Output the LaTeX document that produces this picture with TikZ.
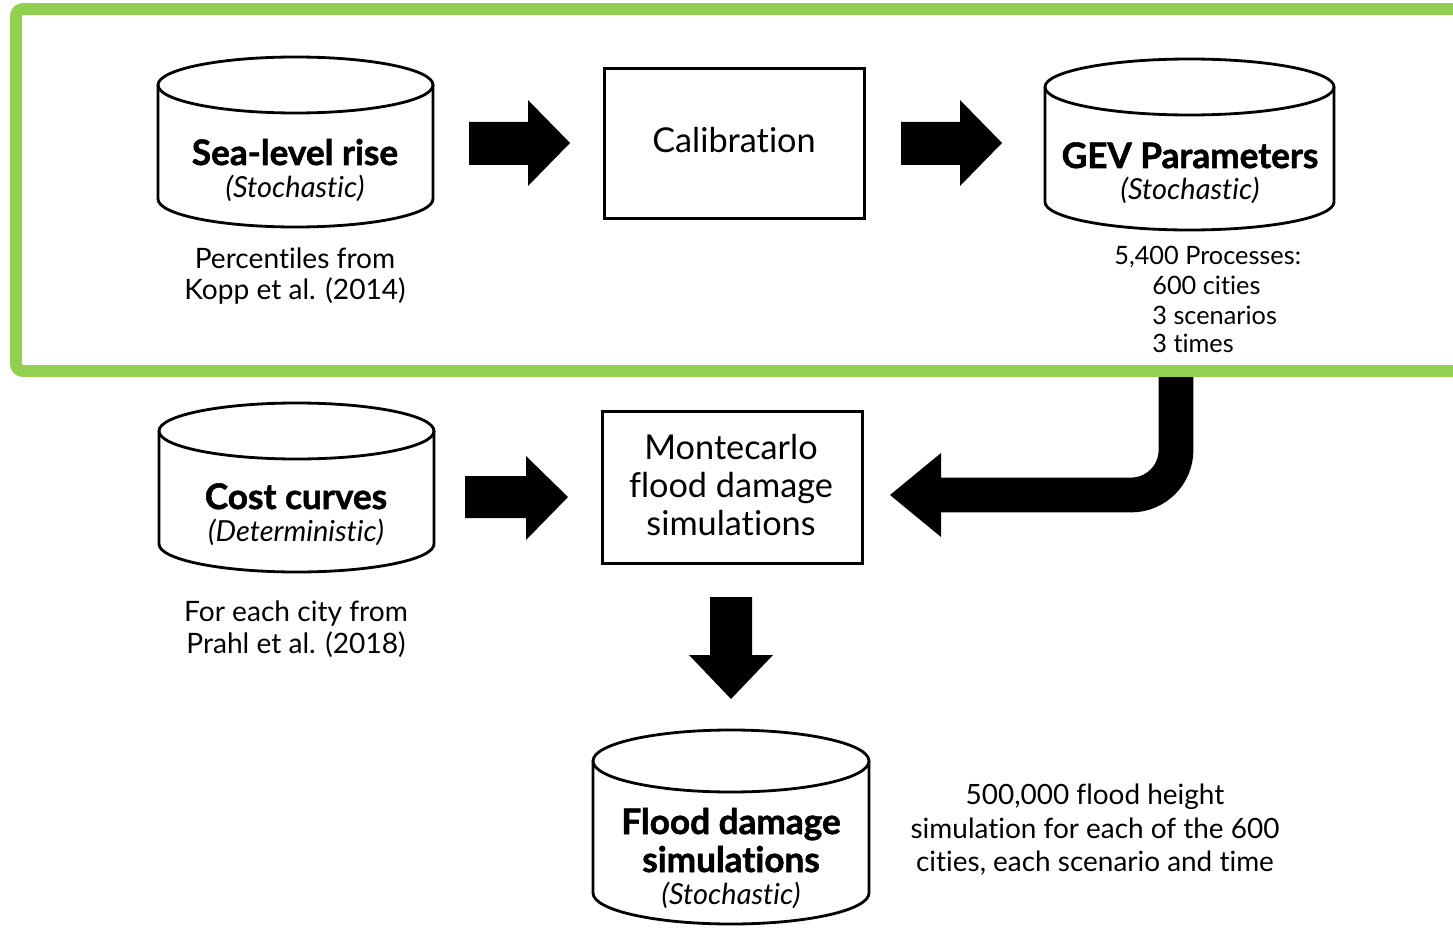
\documentclass[tikz,border=0pt]{standalone}
\usepackage{fontspec}
\setmainfont{Lato}[Ligatures=NoCommon, BoldFeatures={FakeBold=1.6}]
\definecolor{framegreen}{RGB}{146,208,80}
\tikzset{
  box/.style={draw, line width=1.7pt, inner sep=0pt},
  cylline/.style={draw, line width=1.6pt},
  blockarrow/.style={fill=black},
  ln/.style={anchor=base, inner sep=0pt},
  hd/.style={ln, font=\fontsize{20}{24}\selectfont\bfseries},
  sub/.style={ln, font=\fontsize{16.5}{20}\selectfont\itshape},
  boxtxt/.style={ln, font=\fontsize{19.5}{23}\selectfont},
  lbl/.style={ln, font=\fontsize{16}{19}\selectfont},
  gevlbl/.style={anchor=base west, inner sep=0pt, font=\fontsize{14.4}{17}\selectfont},
  fdl/.style={ln, font=\fontsize{15.9}{19}\selectfont},
}
\newcommand\drawcyl[5]{%
  \draw[cylline] ({(#1+#2)/2},{#3+#5}) ellipse [x radius={(#2-#1)/2}, y radius=#5];
  \draw[cylline] (#1,{#3+#5}) -- (#1,{#4-#5}) arc[start angle=180,end angle=0,x radius={(#2-#1)/2},y radius=#5] -- (#2,{#3+#5});
}
\begin{document}
\begin{tikzpicture}[x=0.02cm, y=-0.02cm]
\useasboundingbox (0,0) rectangle (1453,929);
\clip (0,0) rectangle (1453,929);
% green frame
\draw[framegreen, line width=6.8pt, rounded corners=4pt] (16,9) rectangle (1490,371);

% Sea-level rise cylinder
\drawcyl{158}{433}{57}{227}{28}
\node[hd] (slr) at (295,165) {Sea-level rise};
\node[sub] (slrsub) at (295,198) {(Stochastic)};
\node[lbl] (slrl1) at (295,268) {Percentiles from};
\node[lbl] (slrl2) at (295,299) {Kopp et al. (2014)};

% Calibration
\node[box, minimum width=5.22cm, minimum height=3.02cm] (cal) at (734.5,143.5) {};
\node[boxtxt] (caltxt) at (734,153) {Calibration};

% GEV cylinder
\drawcyl{1045}{1334}{59}{230}{28}
\node[hd] (gev) at (1190,168) {GEV Parameters};
\node[sub] (gevsub) at (1190,200) {(Stochastic)};
\node[gevlbl] (gevl1) at (1114,264) {5,400 Processes:};
\node[gevlbl] (gevl2) at (1152,294) {600 cities};
\node[gevlbl] (gevl3) at (1152,324) {3 scenarios};
\node[gevlbl] (gevl4) at (1152,352) {3 times};

% top arrows
\fill[blockarrow] (469,122) -- (528,122) -- (528,100) -- (570,143) -- (528,186) -- (528,165) -- (469,165) -- cycle;
\fill[blockarrow] (901,122) -- (960,122) -- (960,100) -- (1002,143) -- (960,186) -- (960,165) -- (901,165) -- cycle;

% Cost curves cylinder
\drawcyl{159}{434}{403}{572}{28}
\node[hd] (cost) at (296,509) {Cost curves};
\node[sub] (costsub) at (296,541) {(Deterministic)};
\node[lbl] (costl1) at (296,621) {For each city from};
\node[lbl] (costl2) at (296,653) {Prahl et al. (2018)};

% Montecarlo box
\node[box, minimum width=5.22cm, minimum height=3.06cm] (mc) at (732.5,487.5) {};
\node[boxtxt] (mc1) at (731,459) {Montecarlo};
\node[boxtxt] (mc2) at (731,497) {flood damage};
\node[boxtxt] (mc3) at (731,535) {simulations};

% arrow cost -> mc
\fill[blockarrow] (465,476) -- (526,476) -- (526,456) -- (568,497) -- (526,540) -- (526,518) -- (465,518) -- cycle;

% curved arrow GEV -> mc
\draw[line width=19.8pt] (1176,377) -- (1176,450) arc[start angle=0, end angle=90, radius=45] -- (938,495);
\fill[blockarrow] (941,453) -- (890,495) -- (941,537) -- cycle;

% down arrow mc -> flood
\fill[blockarrow] (710,597) -- (752,597) -- (752,655) -- (773,655) -- (731,699) -- (689,655) -- (710,655) -- cycle;

% Flood damage cylinder
\drawcyl{593}{869}{730}{924}{31}
\node[hd] (fd1) at (731,834) {Flood damage};
\node[hd] (fd2) at (731,872) {simulations};
\node[sub] (fdsub) at (731,904) {(Stochastic)};
\node[fdl] (fdl1) at (1095,804) {500,000 flood height};
\node[fdl] (fdl2) at (1095,838) {simulation for each of the 600};
\node[fdl] (fdl3) at (1095,871) {cities, each scenario and time};
\end{tikzpicture}
\end{document}
